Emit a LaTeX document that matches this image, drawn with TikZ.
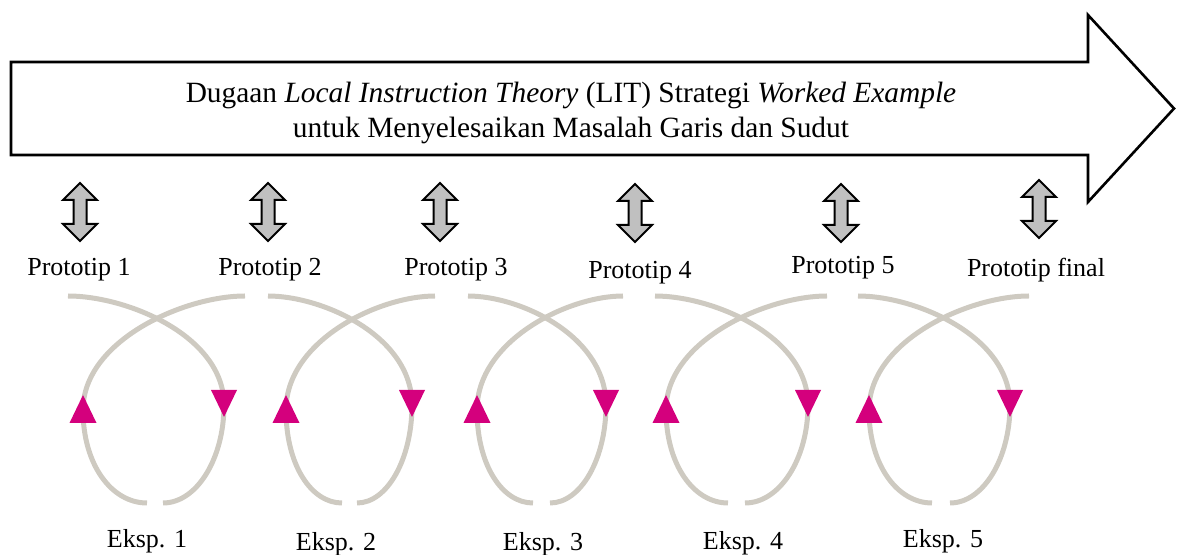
\documentclass[tikz,border=0pt]{standalone}
\usepackage{fontspec}
\setmainfont{Liberation Serif}
\definecolor{loopgray}{RGB}{206,202,193}
\definecolor{tipmagenta}{RGB}{212,0,125}
\definecolor{arrowgray}{RGB}{192,192,192}
\tikzset{
  loopline/.style={draw=loopgray, line width=2.5pt},
  tip/.style={fill=tipmagenta},
  dblarrow/.style={draw, fill=arrowgray, line width=1pt, line join=miter},
  labeltext/.style={font=\fontsize{13}{15}\selectfont, inner sep=0pt, anchor=base},
}
\begin{document}
\begin{tikzpicture}[x=0.5pt, y=-0.5pt, line join=miter]
\useasboundingbox (0,0) rectangle (1179,555);
% big arrow with the title
\draw[line width=1.3pt] (11,62) -- (1088,62) -- (1088,15) -- (1174,108.5)
  -- (1088,202) -- (1088,155) -- (11,155) -- cycle;
\node[align=center, font=\fontsize{14.7}{17.5}\selectfont] (lit) at (571,112.7)
  {Dugaan \textit{Local Instruction Theory} (LIT) Strategi \textit{Worked Example}\\
   untuk Menyelesaikan Masalah Garis dan Sudut};
% double arrows
\foreach \x/\y in {80/212, 268/212, 440/212, 635/213, 841/213, 1039/209}
  \draw[dblarrow] (\x,\y-29) -- (\x+17,\y-12) -- (\x+6.5,\y-12) -- (\x+6.5,\y+12)
    -- (\x+17,\y+12) -- (\x,\y+29) -- (\x-17,\y+12) -- (\x-6.5,\y+12)
    -- (\x-6.5,\y-12) -- (\x-17,\y-12) -- cycle;
% prototypes
\foreach \x/\y/\t in {79/276/1, 270/276/2, 456/276/3, 640/279/4, 843/274/5, 1036/277/final}
  \node[labeltext] (proto\t) at (\x,\y) {Prototip \t};
% cycles
\foreach \l/\r/\tl/\tr/\bl/\br in {83/224/68/245/147/163, 286/412/268/435/342/357,
    477/606/468/623/533/550, 666/808/655/827/728/745, 869/1010/858/1029/932/950}
{
  \draw[loopline] (\tl,296) .. controls ({\tl+0.38*(\r-\tl)},296) and (\r,336) .. (\r,405)
    .. controls (\r,459) and ({\br+0.55*(\r-\br)},503) .. (\br,503);
  \draw[loopline] (\tr,296) .. controls ({\tr-0.38*(\tr-\l)},296) and (\l,341) .. (\l,410)
    .. controls (\l,465) and ({\bl-0.55*(\bl-\l)},503) .. (\bl,503);
  \fill[tip] (\l-13.5,423) -- (\l+13.5,423) -- (\l,395) -- cycle;
  \fill[tip] (\r-13,390) -- (\r+13,390) -- (\r,417) -- cycle;
}
% experiments
\foreach \x/\y/\t in {147/548/1, 336/551/2, 543/551/3, 743/550/4, 943/548/5}
  \node[labeltext] (eksp\t) at (\x,\y) {Eksp. \t};
\end{tikzpicture}
\end{document}
